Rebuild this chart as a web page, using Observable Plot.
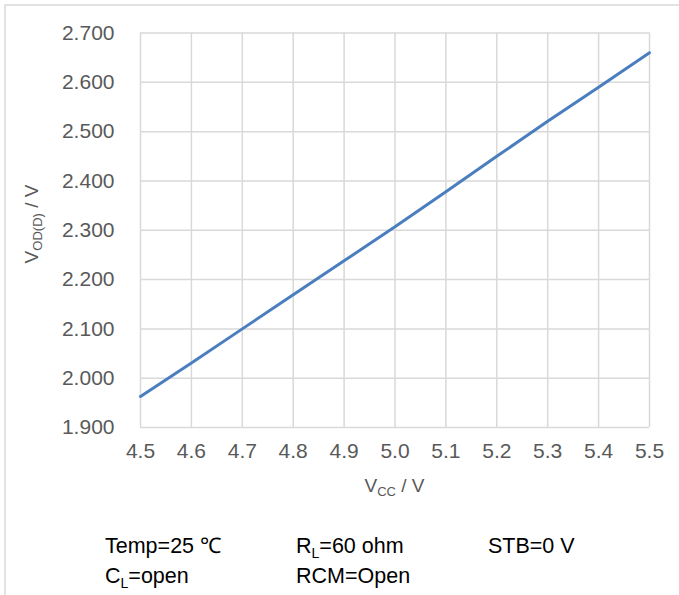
<!DOCTYPE html>
<html>
<head>
<meta charset="utf-8">
<script src="https://cdn.jsdelivr.net/npm/d3@7"></script>
<script src="https://cdn.jsdelivr.net/npm/@observablehq/plot@0.6"></script>
<style>
  html, body { margin: 0; padding: 0; background: white; }
  #chart { width: 679px; height: 595px; }
</style>
</head>
<body>
<div id="chart"></div>
<script>
const vcc = [4.5, 4.6, 4.7, 4.8, 4.9, 5.0, 5.1, 5.2, 5.3, 5.4, 5.5];
const vod = [1.963, 2.031, 2.100, 2.169, 2.238, 2.307, 2.378, 2.450, 2.521, 2.590, 2.660];
const xTicks = [4.5, 4.6, 4.7, 4.8, 4.9, 5.0, 5.1, 5.2, 5.3, 5.4, 5.5];
const yTicks = [1.9, 2.0, 2.1, 2.2, 2.3, 2.4, 2.5, 2.6, 2.7];
const notes = [
  {col: 0, row: 0, main: "Temp=25 ℃", sub: null, rest: null},
  {col: 0, row: 1, main: "C", sub: "L", rest: "=open"},
  {col: 1, row: 0, main: "R", sub: "L", rest: "=60 ohm"},
  {col: 1, row: 1, main: "RCM=Open", sub: null, rest: null},
  {col: 2, row: 0, main: "STB=0 V", sub: null, rest: null}
];

const data = vcc.map((x, i) => ({x, y: vod[i]}));
const gridColor = "#d9d9d9";

const svg = Plot.plot({
  width: 679,
  height: 595,
  marginLeft: 140,
  marginRight: 30,
  marginTop: 32.5,
  marginBottom: 168,
  style: {fontFamily: "'Liberation Sans', Arial, sans-serif", fontSize: "21px", color: "#595959", background: "white", overflow: "visible"},
  x: {domain: [4.5, 5.5]},
  y: {domain: [1.9, 2.7]},
  marks: [
    Plot.gridX(xTicks, {stroke: gridColor, strokeOpacity: 1, strokeWidth: 1.5}),
    Plot.gridY(yTicks, {stroke: gridColor, strokeOpacity: 1, strokeWidth: 1.5}),
    Plot.axisX(xTicks, {tickSize: 0, tickPadding: 16, tickFormat: d => d.toFixed(1), label: null, fontSize: 21}),
    Plot.axisY(yTicks, {tickSize: 0, tickPadding: 26, tickFormat: d => d.toFixed(3), label: null, fontSize: 21}),
    Plot.line(data, {x: "x", y: "y", stroke: "#4a7ebf", strokeWidth: 3})
  ]
});
document.getElementById("chart").appendChild(svg);

const s = d3.select(svg);
// outer frame
s.insert("path", ":first-child")
  .attr("d", "M5,600V5H690")
  .attr("fill", "none")
  .attr("stroke", gridColor)
  .attr("stroke-width", 1.5);

// x axis label
const xl = s.append("text")
  .attr("x", 394.5).attr("y", 492)
  .attr("text-anchor", "middle")
  .attr("fill", "#595959")
  .style("font-size", "19px");
xl.append("tspan").text("V");
xl.append("tspan").attr("dy", 4).style("font-size", "13px").text("CC");
xl.append("tspan").attr("dy", -4).text(" / V");

// y axis label
const yl = s.append("text")
  .attr("transform", "translate(38,224) rotate(-90)")
  .attr("text-anchor", "middle")
  .attr("fill", "#595959")
  .style("font-size", "19px");
yl.append("tspan").text("V");
yl.append("tspan").attr("dy", 4).style("font-size", "13px").text("OD(D)");
yl.append("tspan").attr("dy", -4).text(" / V");

// notes
const colX = [105, 296, 488];
const rowY = [553, 583];
notes.forEach(n => {
  const t = s.append("text")
    .attr("x", colX[n.col]).attr("y", rowY[n.row])
    .attr("text-anchor", "start")
    .attr("fill", "#000")
    .style("font-size", "21.5px");
  t.append("tspan").text(n.main);
  if (n.sub) {
    t.append("tspan").attr("dy", 5).style("font-size", "14px").text(n.sub);
    t.append("tspan").attr("dy", -5).text(n.rest);
  }
});
</script>
</body>
</html>
